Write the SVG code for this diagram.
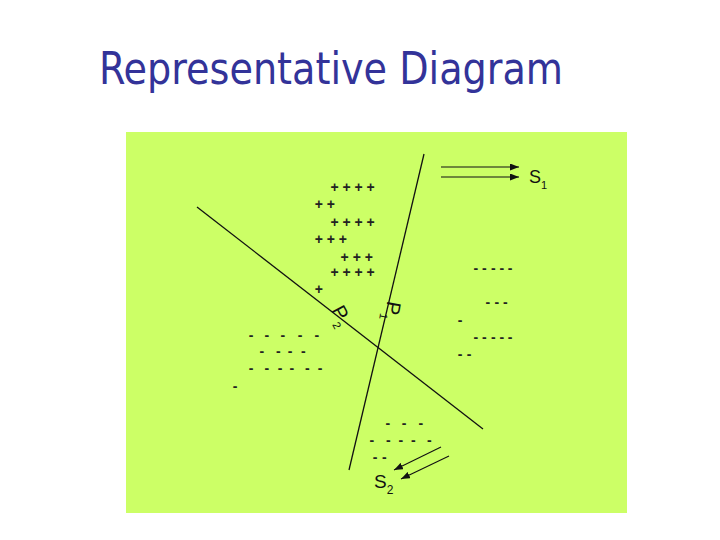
<svg xmlns="http://www.w3.org/2000/svg" width="720" height="540" viewBox="0 0 720 540">
<defs>
<style>
.bg{fill:#CCFF66;}
.title{font-family:"DejaVu Sans Condensed","DejaVu Sans",Verdana,sans-serif;font-size:44px;fill:#333399;}
.sym{font-family:"Liberation Sans",Arial,sans-serif;font-size:14px;font-weight:bold;fill:#222;}
.lbl{font-family:"Liberation Sans",Arial,sans-serif;fill:#111;}
.ln{stroke:#111;stroke-width:1.3;fill:none;}
.arr{stroke:#111;stroke-width:1.1;fill:none;marker-end:url(#ah);}
</style>
<marker id="ah" markerUnits="userSpaceOnUse" markerWidth="9" markerHeight="7" refX="9" refY="3.5" orient="auto">
<path d="M0,0 L9,3.5 L0,7 z" fill="#111"/>
</marker>
</defs>
<rect width="720" height="540" fill="#ffffff"/>
<g id="title"><text class="title" x="99" y="84" textLength="464" lengthAdjust="spacingAndGlyphs">Representative Diagram</text></g>
<g id="panel"><rect class="bg" x="126" y="132" width="501" height="381"/></g>
<g id="connectors">
<line class="ln" x1="424" y1="154" x2="349" y2="470"/>
<line class="ln" x1="197" y1="207" x2="483" y2="429"/>
<line class="arr" x1="441" y1="167" x2="519" y2="167"/>
<line class="arr" x1="441" y1="177" x2="519" y2="177"/>
<line class="arr" x1="441" y1="447" x2="394" y2="470"/>
<line class="arr" x1="449" y1="456" x2="401" y2="479"/>
</g>
<g id="label-P1" transform="translate(387.5,300.5) rotate(100)">
<text class="lbl" font-size="20">P<tspan font-size="11" dy="5">1</tspan></text>
</g>
<g id="label-P2" transform="translate(331,310) rotate(62)">
<text class="lbl" font-size="20">P<tspan font-size="11" dy="6">2</tspan></text>
</g>
<g id="label-S1"><text class="lbl" x="529" y="183" font-size="18">S<tspan font-size="11" dy="6">1</tspan></text></g>
<g id="label-S2"><text class="lbl" x="374" y="488" font-size="19">S<tspan font-size="12" dy="6">2</tspan></text></g>
<g id="plus-cluster">
<text class="sym" x="330.4" y="191.6">+ + + +</text>
<text class="sym" x="314.7" y="208.9">+ +</text>
<text class="sym" x="330.4" y="226.6">+ + + +</text>
<text class="sym" x="314.7" y="244.2">+ + +</text>
<text class="sym" x="340.6" y="261.6">+ + +</text>
<text class="sym" x="330.4" y="277.2">+ + + +</text>
<text class="sym" x="314.7" y="294.2">+</text>
</g>
<g id="minus-left">
<text class="sym" y="339.6" x="248.7 253 264.4 270 280.4 287 297.7 304 314.4">- - - - -</text>
<text class="sym" y="356.2" x="259.4 265 276 281 287.7 293 301">- - - -</text>
<text class="sym" y="373.2" x="248.7 255 264.4 271 277.7 283 289.4 297 305 311 317.7">- - - - - -</text>
<text class="sym" y="390.6" x="232.7">-</text>
</g>
<g id="minus-right">
<text class="sym" y="272.9" x="473.4 477 482 486 491 495 499.4 504 507.7">- - - - -</text>
<text class="sym" y="307.2" x="485.4 490 494.4 499 503">- - -</text>
<text class="sym" y="324.9" x="457.7">-</text>
<text class="sym" y="342.2" x="473.4 477 482 486 491 495 499.4 504 507.7">- - - - -</text>
<text class="sym" y="358.9" x="457.7 462 466.7">- -</text>
</g>
<g id="minus-bottom">
<text class="sym" y="428.2" x="385.4 392 401.7 409 418.4">- - -</text>
<text class="sym" y="444.9" x="369.4 376 386 392 398.4 405 411 418 427">- - - - -</text>
<text class="sym" y="462.2" x="372.7 377 382">- -</text>
</g>
</svg>
